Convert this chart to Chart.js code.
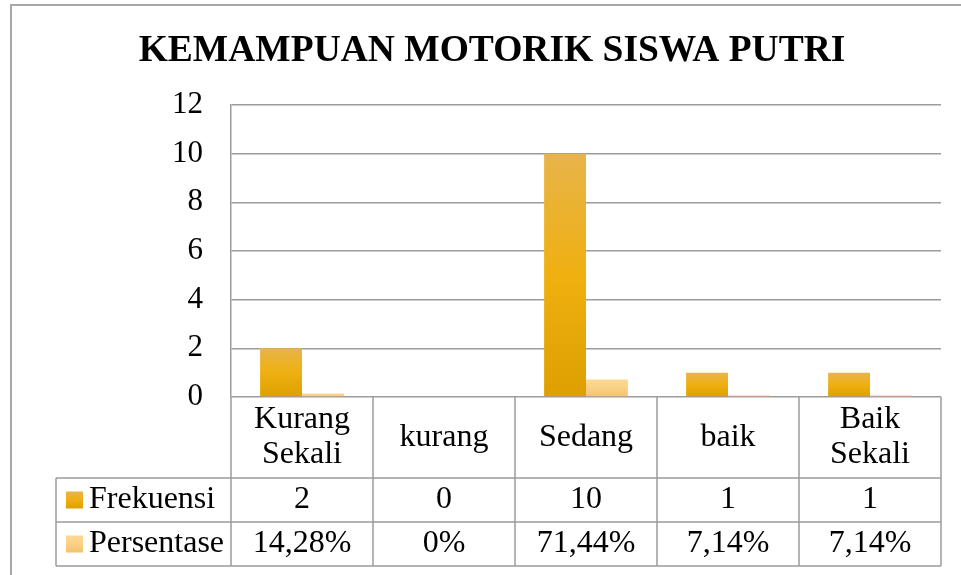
<!DOCTYPE html>
<html lang="id">
<head>
  <meta charset="UTF-8" />
  <title>Kemampuan Motorik Siswa Putri</title>
  <script src="https://cdn.jsdelivr.net/npm/chart.js"></script>
  <style>
    body {
      margin: 0;
      background: #ffffff;
    }
    #wadah {
      width: 961px;
      height: 575px;
    }
  </style>
</head>
<body>
  <div id="wadah"><canvas id="grafik" width="961" height="575"></canvas></div>

  <script>
    // Data
    const kategori = [['Kurang', 'Sekali'], ['kurang'], ['Sedang'], ['baik'], ['Baik', 'Sekali']];
    const frekuensi = [2, 0, 10, 1, 1];
    const persentase = [0.1428, 0, 0.7144, 0.0714, 0.0714];
    const namaSeri = ['Frekuensi', 'Persentase'];
    const nilaiSumbuY = [0, 2, 4, 6, 8, 10, 12];

    const FONT = '"Liberation Serif", "Times New Roman", serif';
    const GARIS = '#9c9c9c';

    // gradien per batang (atas lebih terang, bawah lebih gelap)
    function gradienBatang(atas, tengah, bawah) {
      return (c) => {
        const chart = c.chart;
        const y = chart.scales.y;
        if (!y || c.type !== 'data') return tengah;
        const pTop = y.getPixelForValue(c.parsed.y);
        const pBot = y.getPixelForValue(0);
        if (!(pBot - pTop > 1)) return tengah;
        const g = chart.ctx.createLinearGradient(0, pTop, 0, pBot);
        g.addColorStop(0, atas);
        g.addColorStop(0.5, tengah);
        g.addColorStop(1, bawah);
        return g;
      };
    }

    const warnaFrek = ['#e8b44a', '#efb010', '#dda000'];
    const warnaPers = ['#fdd893', '#fbd086', '#f3c36c'];

    function formatPersen(v) {
      if (v === 0) return '0%';
      return (v * 100).toFixed(2).replace('.', ',') + '%';
    }

    // Bingkai luar + tabel data di bawah grafik
    const tabelData = {
      id: 'tabelData',
      beforeDraw(chart) {
        const ctx = chart.ctx;
        ctx.save();
        ctx.fillStyle = '#ffffff';
        ctx.fillRect(0, 0, chart.width, chart.height);
        ctx.strokeStyle = '#a8a8a8';
        ctx.lineWidth = 2;
        ctx.beginPath();
        ctx.moveTo(11, chart.height);
        ctx.lineTo(11, 5);
        ctx.lineTo(chart.width, 5);
        ctx.stroke();
        ctx.restore();
      },
      afterDraw(chart) {
        const ctx = chart.ctx;
        const x = chart.scales.x;
        const area = chart.chartArea;
        const n = kategori.length;
        const lebar = (x.right - x.left) / n;
        const yAtas = area.bottom;
        const yBaris1 = yAtas + 81;
        const yBaris2 = yBaris1 + 44;
        const yBawah = yBaris2 + 44;
        const kiri = 56;

        ctx.save();
        ctx.strokeStyle = GARIS;
        ctx.lineWidth = 1.5;
        ctx.beginPath();
        [yBaris1, yBaris2, yBawah].forEach(yy => {
          ctx.moveTo(kiri, yy);
          ctx.lineTo(x.right, yy);
        });
        ctx.moveTo(kiri, yBaris1);
        ctx.lineTo(kiri, yBawah);
        for (let i = 0; i <= n; i++) {
          const xx = x.left + i * lebar;
          ctx.moveTo(xx, yAtas);
          ctx.lineTo(xx, yBawah);
        }
        ctx.stroke();

        ctx.fillStyle = '#000000';
        ctx.font = '32px ' + FONT;
        ctx.textAlign = 'center';
        ctx.textBaseline = 'middle';

        const tengahKat = (yAtas + yBaris1) / 2;
        const tengah1 = (yBaris1 + yBaris2) / 2;
        const tengah2 = (yBaris2 + yBawah) / 2;

        kategori.forEach((baris, i) => {
          const cx = x.getPixelForTick(i);
          const tinggiBaris = 35;
          const mulai = tengahKat - (baris.length - 1) * tinggiBaris / 2;
          baris.forEach((teks, j) => ctx.fillText(teks, cx, mulai + j * tinggiBaris));
          ctx.fillText(String(frekuensi[i]), cx, tengah1);
          ctx.fillText(formatPersen(persentase[i]), cx, tengah2);
        });

        // legenda di kolom kiri
        const kotak = 17;
        [[tengah1, warnaFrek], [tengah2, warnaPers]].forEach(([cy, w], k) => {
          const g = ctx.createLinearGradient(0, cy - kotak / 2, 0, cy + kotak / 2);
          g.addColorStop(0, w[0]);
          g.addColorStop(0.5, w[1]);
          g.addColorStop(1, w[2]);
          ctx.fillStyle = g;
          ctx.fillRect(66, cy - kotak / 2, kotak, kotak);
          ctx.fillStyle = '#000000';
          ctx.textAlign = 'left';
          ctx.fillText(namaSeri[k], 89, cy);
        });
        ctx.restore();
      }
    };

    const grafik = new Chart(document.getElementById('grafik'), {
      type: 'bar',
      data: {
        labels: kategori,
        datasets: [
          {
            label: namaSeri[0],
            data: frekuensi,
            backgroundColor: gradienBatang(...warnaFrek),
            categoryPercentage: 0.59,
            barPercentage: 1
          },
          {
            label: namaSeri[1],
            data: persentase,
            backgroundColor: gradienBatang(...warnaPers),
            categoryPercentage: 0.59,
            barPercentage: 1
          }
        ]
      },
      options: {
        responsive: false,
        animation: false,
        layout: { padding: { left: 43, right: 20, top: 0, bottom: 0 } },
        plugins: {
          legend: { display: false },
          tooltip: { enabled: false },
          title: {
            display: true,
            text: 'KEMAMPUAN MOTORIK SISWA PUTRI',
            color: '#000000',
            font: { family: FONT, size: 37.5, weight: 'bold', lineHeight: 1.2 },
            padding: { top: 29, bottom: 31 }
          }
        },
        scales: {
          x: {
            ticks: { display: false },
            grid: { display: false },
            border: { display: false },
            afterFit(scale) { scale.height = 178; }
          },
          y: {
            min: nilaiSumbuY[0],
            max: nilaiSumbuY[nilaiSumbuY.length - 1],
            afterBuildTicks(scale) {
              scale.ticks = nilaiSumbuY.map(v => ({ value: v }));
            },
            ticks: {
              color: '#000000',
              font: { family: FONT, size: 31 },
              padding: 28
            },
            grid: { color: GARIS, lineWidth: 1.5, drawTicks: false },
            border: { color: GARIS, width: 1.5 },
            afterFit(scale) { scale.width = 188; }
          }
        }
      },
      plugins: [tabelData]
    });
  </script>
</body>
</html>
